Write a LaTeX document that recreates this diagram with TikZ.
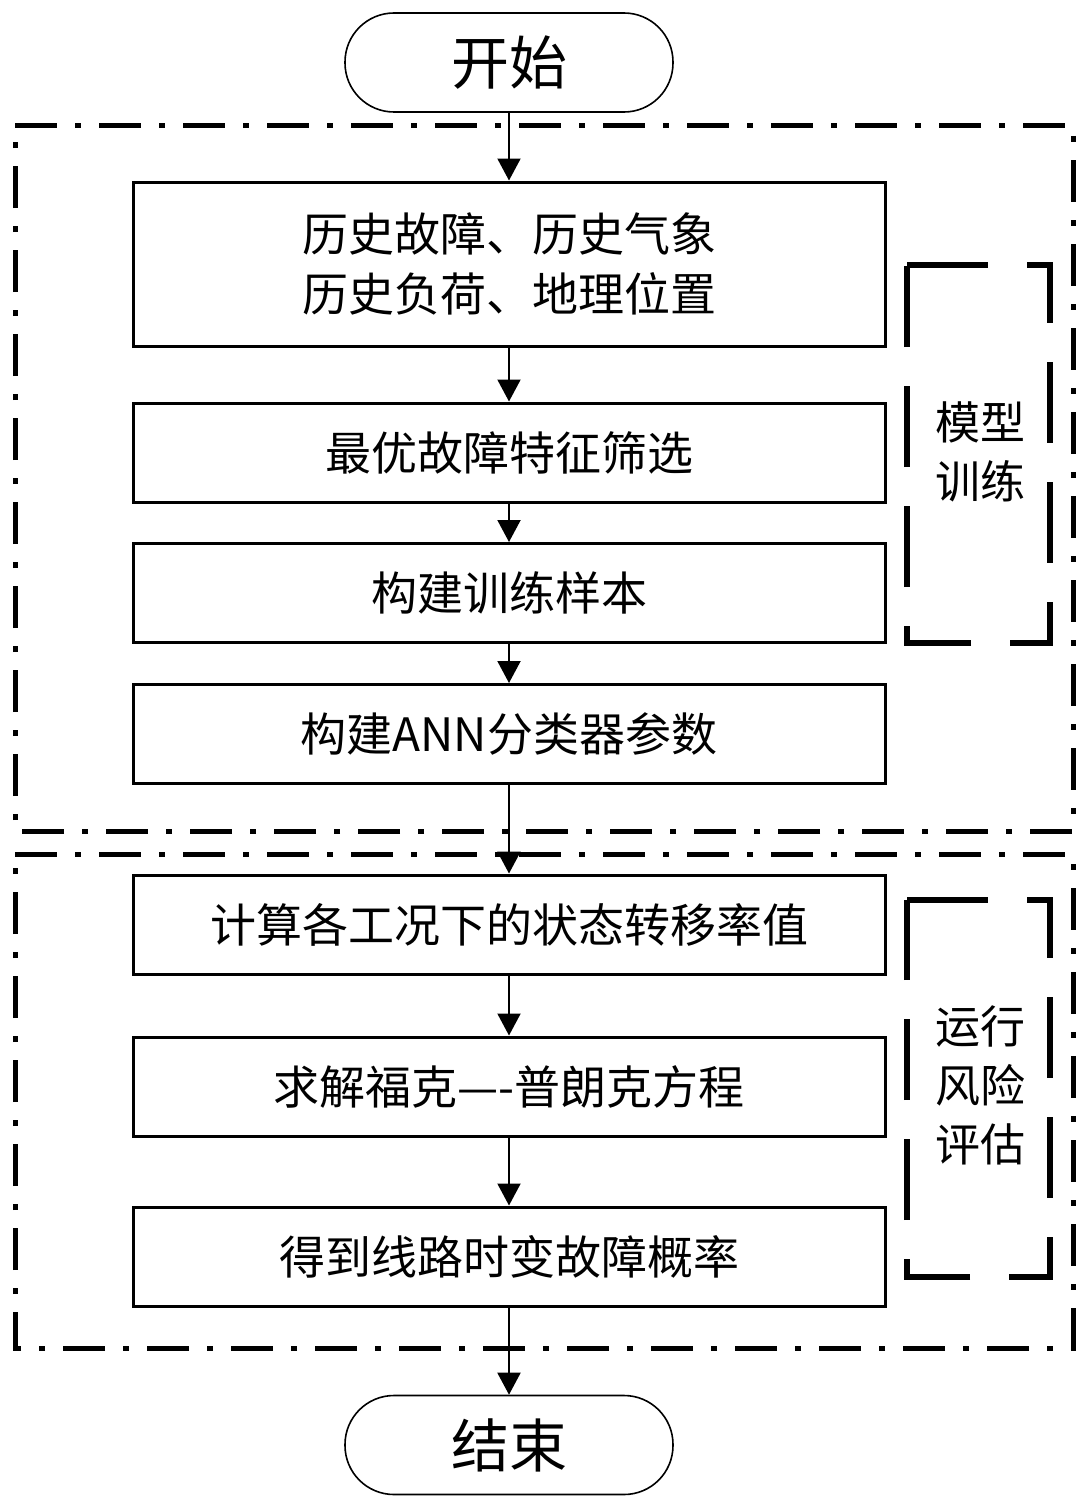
\documentclass[tikz,border=0pt]{standalone}
\usepackage{fontspec}
\setmainfont{Noto Sans CJK SC}
\usetikzlibrary{arrows.meta}
\tikzset{
  procbox/.style={draw, line width=1.5pt, minimum width=376pt, minimum height=49.5pt, inner sep=0pt, align=center, font=\fontsize{23pt}{30pt}\selectfont},
  termbox/.style={draw, line width=0.8pt, rounded corners=24.5pt, minimum width=164pt, minimum height=49.5pt, inner sep=0pt, font=\fontsize{29pt}{34pt}\selectfont},
  flowarrow/.style={line width=1pt, -{Triangle[length=11pt,width=11.5pt]}},
  groupframe/.style={line width=2.5pt, dash pattern=on 21pt off 9pt on 3pt off 9pt},
  bracketframe/.style={line width=2.75pt, dash pattern=on 40.5pt off 19.5pt},
  bracketlabel/.style={align=center, inner sep=0pt, font=\fontsize{22.5pt}{29.5pt}\selectfont}
}
\begin{document}
\begin{tikzpicture}[x=0.5pt,y=-0.5pt]
\useasboundingbox (0,0) rectangle (1089,1509);
% group frames
\draw[groupframe] (15,126) -- (1073,126) -- (1073,831) -- (15,831) -- cycle;
\draw[groupframe] (15,854) -- (1073,854) -- (1073,1348) -- (15,1348) -- cycle;
% bracket frames
\draw[bracketframe] (907,265) -- (1050,265) -- (1050,643) -- (907,643) -- cycle;
\draw[bracketframe] (907,900) -- (1050,900) -- (1050,1277) -- (907,1277) -- cycle;
\node[bracketlabel] (lbl1) at (980,452) {模型\\训练};
\node[bracketlabel] (lbl2) at (980,1085) {运行\\风险\\评估};
% nodes
\node[termbox] (start) at (509,62.5) {开始};
\node[procbox, minimum height=82pt] (b1) at (509,264) {历史故障、历史气象\\历史负荷、地理位置};
\node[procbox] (b2) at (509,452.5) {最优故障特征筛选};
\node[procbox] (b3) at (509,593) {构建训练样本};
\node[procbox] (b4) at (509,734) {构建ANN分类器参数};
\node[procbox] (b5) at (509,924.5) {计算各工况下的状态转移率值};
\node[procbox] (b6) at (509,1086.5) {求解福克—-普朗克方程};
\node[procbox] (b7) at (509,1256.5) {得到线路时变故障概率};
\node[termbox] (end) at (509,1445) {结束};
% connectors
\draw[flowarrow] (start) -- (b1);
\draw[flowarrow] (b1) -- (b2);
\draw[flowarrow] (b2) -- (b3);
\draw[flowarrow] (b3) -- (b4);
\draw[flowarrow] (b4) -- (b5);
\draw[flowarrow] (b5) -- (b6);
\draw[flowarrow] (b6) -- (b7);
\draw[flowarrow] (b7) -- (end);
\end{tikzpicture}
\end{document}
